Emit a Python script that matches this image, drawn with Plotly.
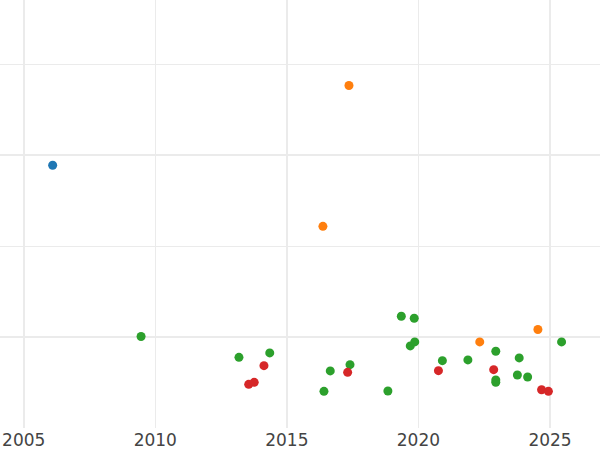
import plotly.graph_objects as go

blue_x = [2006.10]
blue_y = [2.89]

orange_x = [2017.36, 2016.37, 2022.33, 2024.54]
orange_y = [3.768, 2.218, 0.947, 1.083]

green_x = [2009.46, 2013.18, 2014.35, 2019.35, 2019.84, 2019.69, 2019.86, 2016.65,
           2017.40, 2016.41, 2018.84, 2020.91, 2021.88, 2022.94, 2023.83, 2023.76,
           2024.15, 2022.94, 2022.94, 2025.44]
green_y = [1.006, 0.777, 0.826, 1.229, 1.207, 0.903, 0.947, 0.628,
           0.697, 0.403, 0.407, 0.741, 0.749, 0.844, 0.771, 0.583,
           0.561, 0.528, 0.502, 0.947]

red_x = [2013.55, 2013.76, 2014.13, 2017.31, 2020.76, 2022.86, 2024.68, 2024.94]
red_y = [0.480, 0.502, 0.686, 0.612, 0.631, 0.642, 0.421, 0.403]

tick_years = [2005, 2010, 2015, 2020, 2025]

fig = go.Figure()
series = [
    (blue_x, blue_y, "#1f77b4"),
    (orange_x, orange_y, "#ff7f0e"),
    (green_x, green_y, "#2ca02c"),
    (red_x, red_y, "#d62728"),
]
for xs, ys, col in series:
    fig.add_trace(go.Scatter(x=xs, y=ys, mode="markers",
                             marker=dict(size=9, color=col, line=dict(width=0)),
                             showlegend=False, hoverinfo="skip"))

# dummy trace for the label axis
fig.add_trace(go.Scatter(x=[None], y=[None], xaxis="x2", showlegend=False))

grid = "#ebebeb"
fig.update_layout(
    width=600, height=450,
    margin=dict(l=0, r=0, t=0, b=22),
    plot_bgcolor="white", paper_bgcolor="white",
    font=dict(family="DejaVu Sans", size=17, color="#444444"),
    xaxis=dict(range=[2004.099, 2026.90], tick0=2005, dtick=10,
               showgrid=True, gridcolor=grid, gridwidth=2,
               minor=dict(dtick=5, tick0=2005, showgrid=True, gridcolor=grid, gridwidth=1),
               showticklabels=False, zeroline=False, showline=False, ticks=""),
    xaxis2=dict(overlaying="x", matches="x", side="bottom",
                tickvals=tick_years, ticktext=[str(t) for t in tick_years],
                showgrid=False, zeroline=False, showline=False, ticks="",
                tickfont=dict(family="DejaVu Sans", size=17, color="#444444")),
    yaxis=dict(range=[0, 4.708], tick0=1, dtick=2,
               showgrid=True, gridcolor=grid, gridwidth=2,
               minor=dict(dtick=1, tick0=0, showgrid=True, gridcolor=grid, gridwidth=1),
               showticklabels=False, zeroline=False, showline=False, ticks=""),
)

fig.write_html("out.html", config={"displayModeBar": False},
               post_script="document.body.style.margin='0';document.body.style.padding='0';")
